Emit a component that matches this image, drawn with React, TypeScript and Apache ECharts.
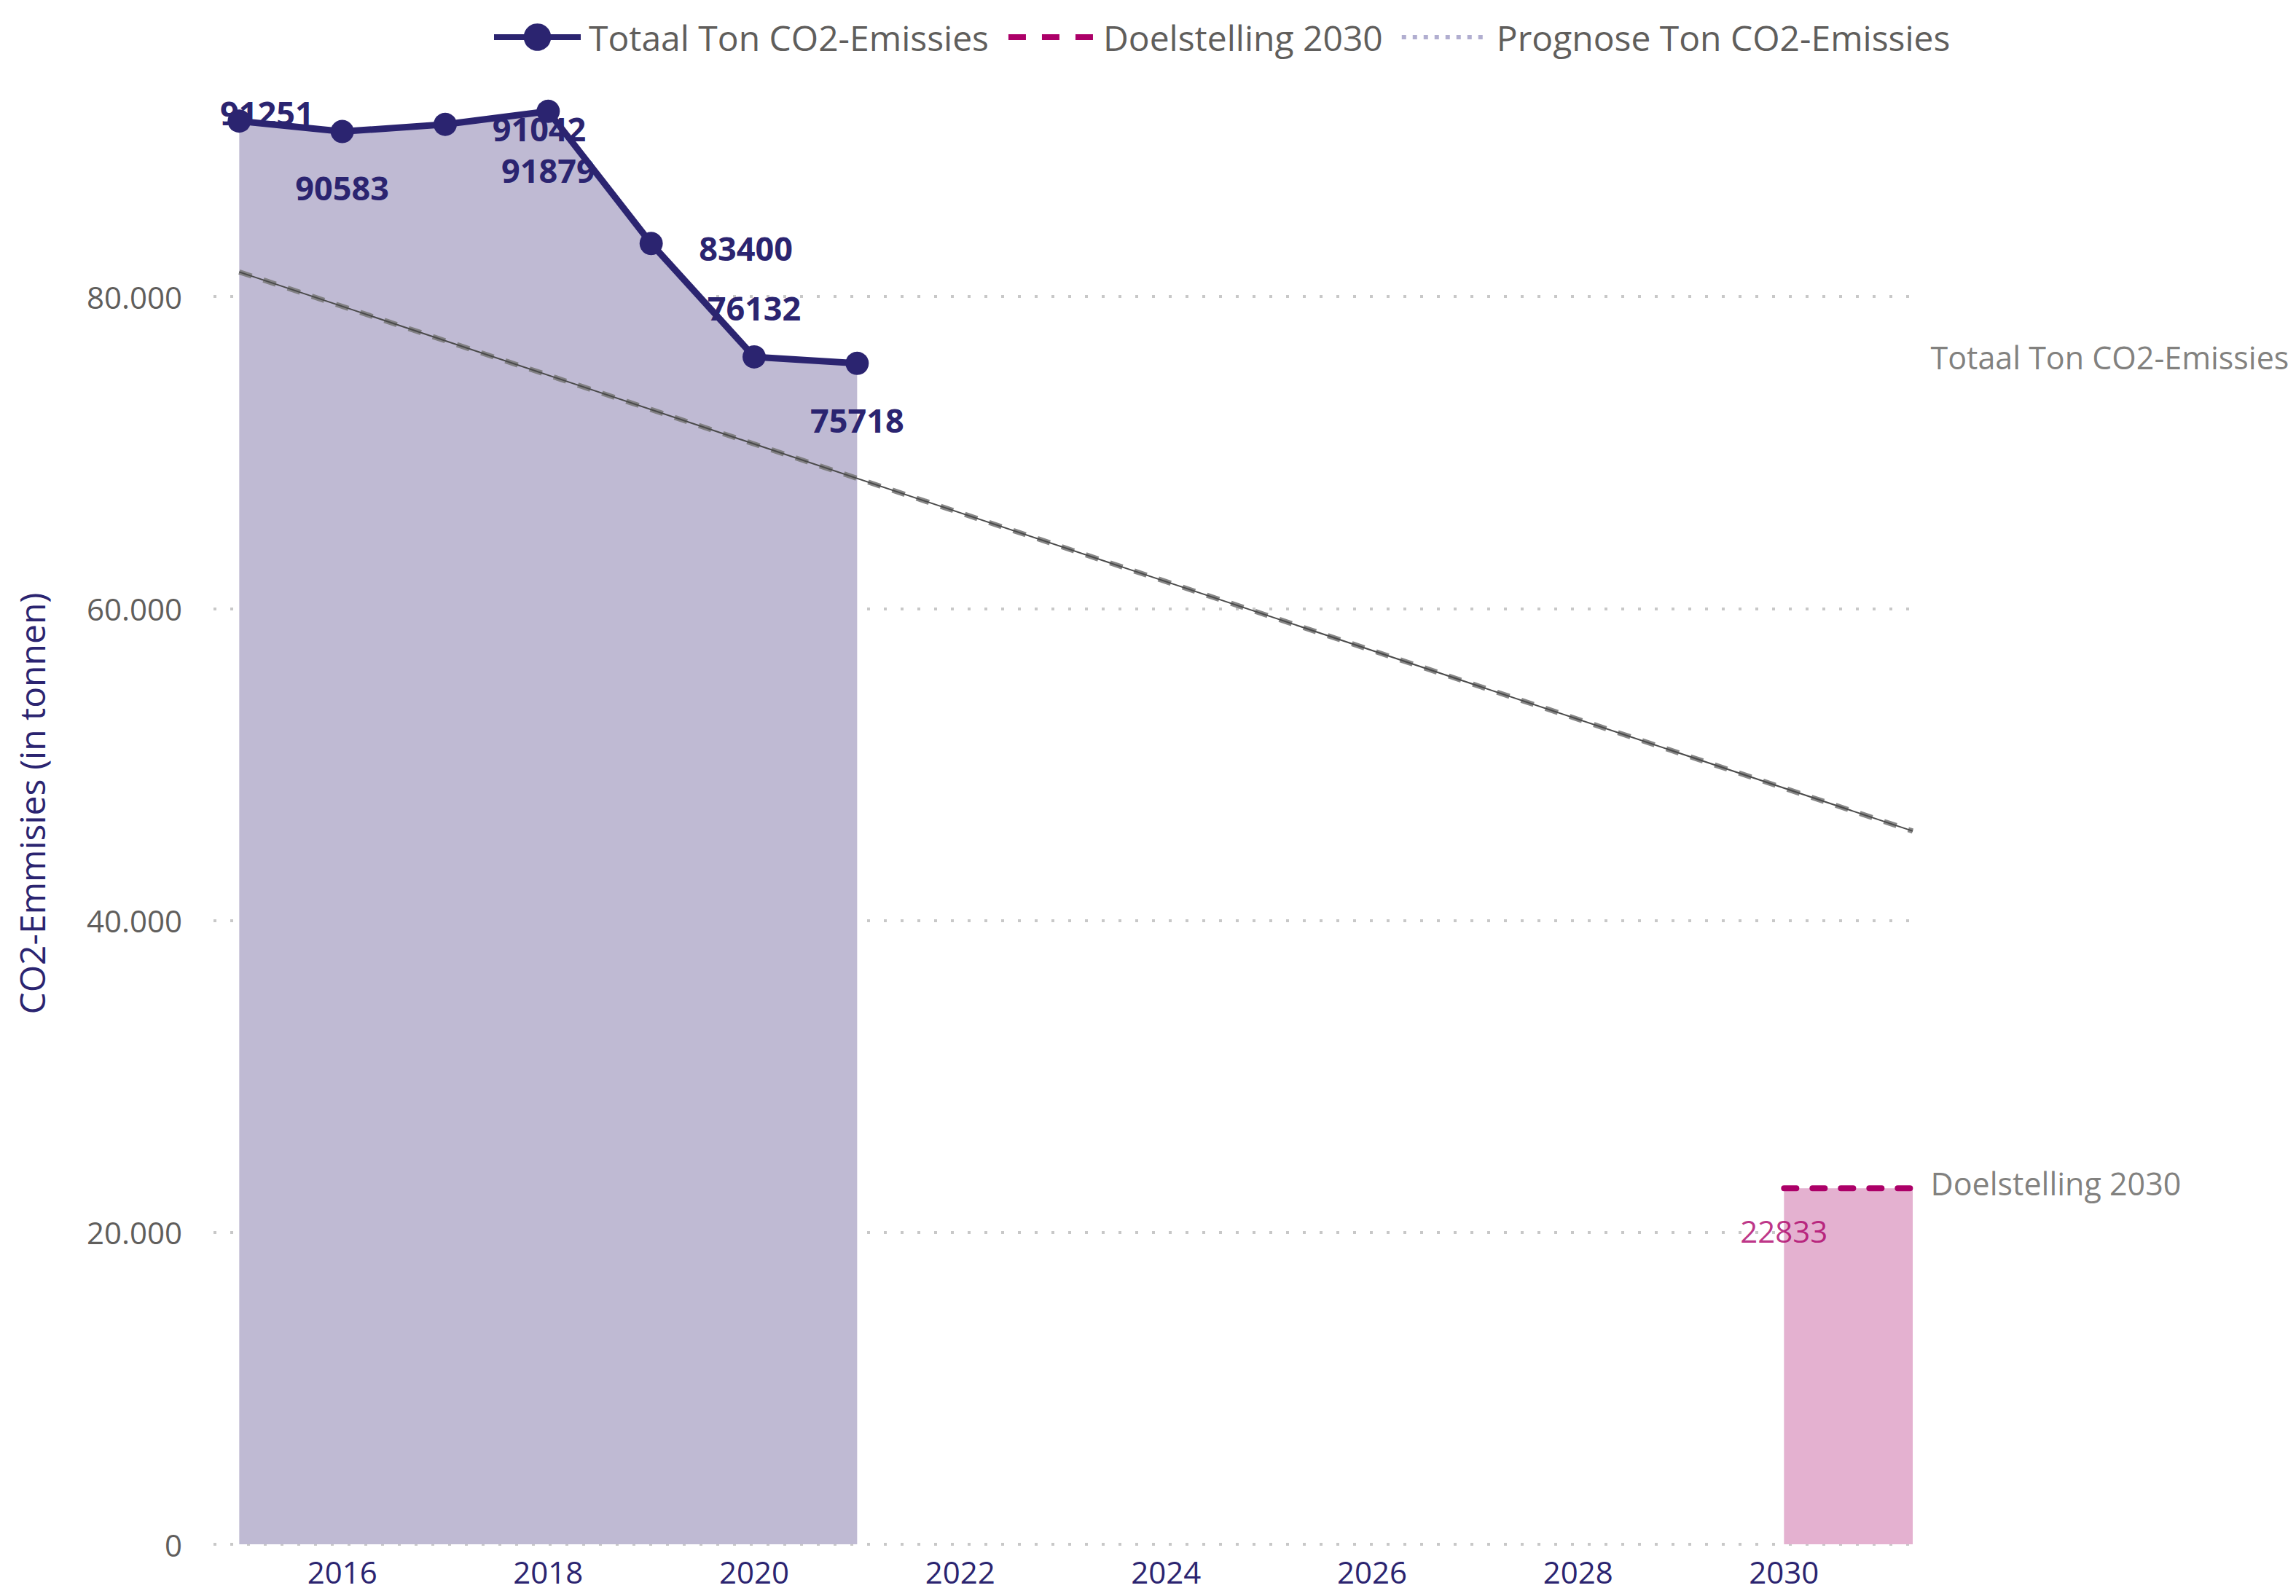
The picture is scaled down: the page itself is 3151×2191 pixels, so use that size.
import React, { useEffect, useRef } from "react";
import * as echarts from "echarts";

const seriesNames = ["Totaal Ton CO2-Emissies", "Doelstelling 2030", "Prognose Ton CO2-Emissies"];
const years = [2015, 2016, 2017, 2018, 2019, 2020, 2021];
const totaal = [91251, 90583, 91042, 91879, 83400, 76132, 75718];
const doelYears = [2030, 2031.25];
const doelValues = [22833, 22833];
const prognoseYears = [2015, 2031.25];
const prognoseValues = [81580, 45730];
const xMin = 2014.75;
const xMax = 2031.25;
const yMax = 95000;
const yTickStep = 20000;
const xLabelYears = [2016, 2018, 2020, 2022, 2024, 2026, 2028, 2030];
const yAxisTitle = "CO2-Emmisies (in tonnen)";

// label offsets in pixels (style, not data)
const labelOffsets = [
  [38, -12],
  [0, 77],
  [129, 6],
  [0, 81],
  [130, 6],
  [0, -67],
  [0, 78],
];

const NAVY = "#2B2470";
const GRAY = "#605E5C";
const PINK = "#AC0068";
const FONT = "'Open Sans', 'Noto Sans', sans-serif";

function fmtThousands(v: number): string {
  return String(Math.round(v)).replace(/\B(?=(\d{3})+(?!\d))/g, ".");
}

export default function App() {
  const ref = useRef<HTMLDivElement>(null);
  useEffect(() => {
    if (!ref.current) return;
    const chart = echarts.init(ref.current, null, { renderer: "svg" });
    const totaalData = years.map((y, i) => ({
      value: [y, totaal[i]],
      label: { offset: labelOffsets[i] },
    }));
    const option: any = {
      animation: false,
      backgroundColor: "#ffffff",
      textStyle: { fontFamily: FONT },
      legend: {
        left: 669,
        top: 22,
        itemWidth: 119,
        itemHeight: 47,
        itemGap: 23,
        textStyle: { color: GRAY, fontSize: 48, fontFamily: FONT, padding: [0, 0, 0, 6] },
        data: [
          { name: seriesNames[0], lineStyle: { width: 8, color: NAVY } },
          {
            name: seriesNames[1],
            lineStyle: { type: [24, 22], cap: "butt", width: 8, color: PINK },
            itemStyle: { color: "transparent", opacity: 0 },
          },
          {
            name: seriesNames[2],
            lineStyle: { color: "#A9A5CB", type: [6, 9], width: 6 },
            itemStyle: { color: "transparent", opacity: 0 },
          },
        ],
      },
      grid: { left: 293, right: 3151 - 2625, top: 86, bottom: 2191 - 2120, containLabel: false },
      xAxis: {
        type: "value",
        min: xMin,
        max: xMax,
        interval: 0.25,
        axisLine: { show: false },
        axisTick: { show: false },
        splitLine: { show: false },
        axisLabel: {
          color: NAVY,
          fontSize: 42,
          fontFamily: FONT,
          margin: 16,
          showMinLabel: true,
          showMaxLabel: true,
          formatter: (v: number) => {
            const r = Math.round(v);
            if (Math.abs(v - r) < 1e-6 && xLabelYears.indexOf(r) >= 0) return String(r);
            return "";
          },
        },
      },
      yAxis: {
        type: "value",
        min: 0,
        max: yMax,
        interval: yTickStep,
        name: yAxisTitle,
        nameLocation: "middle",
        nameGap: 226,
        nameTextStyle: { color: NAVY, fontSize: 48, fontFamily: FONT },
        axisLine: { show: false },
        axisTick: { show: false },
        axisLabel: {
          color: GRAY,
          fontSize: 42,
          fontFamily: FONT,
          margin: 43,
          showMaxLabel: false,
          formatter: (v: number) => (v > 80000 ? "" : fmtThousands(v)),
        },
        splitLine: {
          show: true,
          showMaxLine: false,
          lineStyle: { color: "#C8C8C8", type: [4, 19], width: 4 },
        },
      },
      series: [
        {
          name: seriesNames[0],
          type: "line",
          data: totaalData,
          symbol: "circle",
          symbolSize: 32,
          showSymbol: true,
          lineStyle: { color: NAVY, width: 9 },
          itemStyle: { color: NAVY },
          areaStyle: { color: "#BFBAD3", opacity: 1 },
          label: {
            show: true,
            position: "inside",
            color: NAVY,
            fontSize: 45,
            fontWeight: "bold",
            fontFamily: FONT,
            formatter: (p: any) => String(p.value[1]),
          },
          z: 2,
        },
        {
          name: seriesNames[1],
          type: "line",
          data: doelYears.map((y, i) => [y, doelValues[i]]),
          symbol: "none",
          lineStyle: { color: PINK, width: 8, type: [17, 22], cap: "round" },
          itemStyle: { color: PINK },
          areaStyle: { color: "#E4B1D0", opacity: 1 },
          z: 2,
        },
        {
          name: seriesNames[2],
          type: "line",
          data: prognoseYears.map((y, i) => [y, prognoseValues[i]]),
          symbol: "none",
          lineStyle: { color: "#7a7a7a", width: 7, type: [18, 17], opacity: 0.9 },
          itemStyle: { color: "#A9A5CB" },
          z: 3,
        },
        {
          name: "prognose-core",
          type: "line",
          data: prognoseYears.map((y, i) => [y, prognoseValues[i]]),
          symbol: "none",
          lineStyle: { color: "#4a4a4a", width: 2 },
          z: 4,
          silent: true,
        },
        {
          name: "doel-label",
          type: "scatter",
          data: [[doelYears[0], doelValues[0]]],
          symbolSize: 1,
          itemStyle: { color: "transparent" },
          label: {
            show: true,
            position: "inside",
            offset: [0, 58],
            color: PINK,
            fontSize: 42,
            fontFamily: FONT,
            formatter: (p: any) => String(p.value[1]),
          },
          z: 5,
        },
        {
          name: "side-labels",
          type: "scatter",
          data: [
            { value: [xMax, totaal[totaal.length - 1]], name: seriesNames[0], label: { offset: [0, -8] } },
            { value: [xMax, doelValues[doelValues.length - 1]], name: seriesNames[1], label: { offset: [0, -7] } },
          ],
          symbolSize: 1,
          itemStyle: { color: "transparent" },
          clip: false,
          label: {
            show: true,
            position: "right",
            distance: 24,
            color: GRAY,
            fontSize: 43,
            fontFamily: FONT,
            formatter: "{b}",
          },
          z: 5,
        },
      ],
    };
    chart.setOption(option);
    return () => chart.dispose();
  }, []);
  return (
    <div
      ref={ref}
      style={{ position: "absolute", left: 0, top: 0, width: 3151, height: 2191, background: "#fff" }}
    />
  );
}
